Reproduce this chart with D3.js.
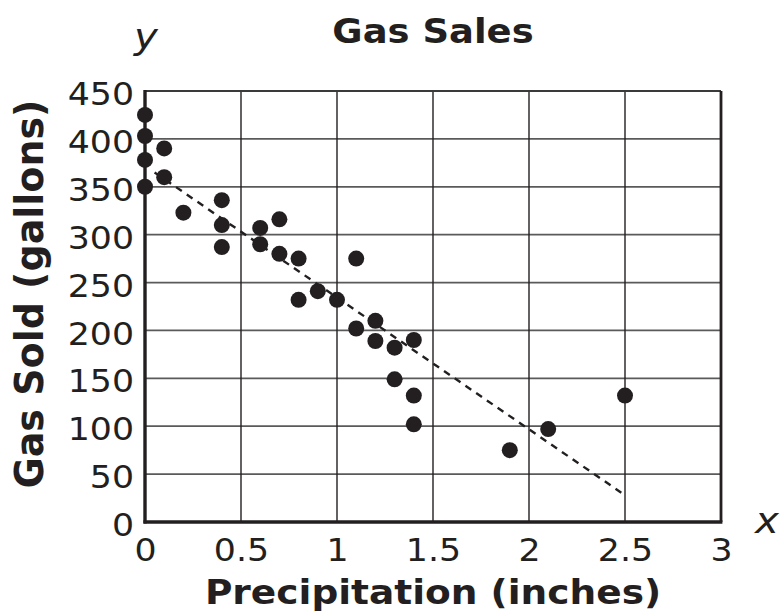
<!DOCTYPE html>
<html>
<head>
<meta charset="utf-8">
<script src="https://cdn.jsdelivr.net/npm/d3@7"></script>
<style>
  html, body { margin: 0; padding: 0; background: #fff; }
  svg { display: block; }
  text { fill: #231f20; font-family: "DejaVu Sans", Verdana, sans-serif; }
</style>
</head>
<body>
<svg id="chart" width="780" height="612"></svg>
<script>
// ---- data ----
const precipitation = [0, 0, 0.1, 0, 0.1, 0, 0.2, 0.4, 0.4, 0.4, 0.6, 0.6, 0.7, 0.7, 0.8, 0.8, 0.9, 1.0, 1.1, 1.1, 1.2, 1.2, 1.3, 1.3, 1.4, 1.4, 1.4, 1.9, 2.1, 2.5];
const gasSold =       [425, 403, 390, 378, 360, 350, 323, 336, 310, 287, 307, 290, 316, 280, 275, 232, 241, 232, 275, 202, 210, 189, 182, 149, 190, 132, 102, 75, 97, 132];
const trendX = [0.05, 2.5];
const trendY = [365, 28];
const xTicks = [0, 0.5, 1, 1.5, 2, 2.5, 3];
const yTicks = [0, 50, 100, 150, 200, 250, 300, 350, 400, 450];
const chartTitle = "Gas Sales";
const xTitle = "Precipitation (inches)";
const yTitle = "Gas Sold (gallons)";

const SX = 1.12; // horizontal stretch of title lettering
const SXT = 1.07; // horizontal stretch of tick lettering
const ink = "#231f20";

const svg = d3.select("#chart");
const pLeft = 145, pRight = 721, pTop = 91, pBottom = 522;

const x = d3.scaleLinear().domain([0, 3]).range([pLeft, pRight]);
const y = d3.scaleLinear().domain([0, 450]).range([pBottom, pTop]);

// grid
const grid = svg.append("g");
grid.selectAll("line.h").data(yTicks.filter(d => d > 0 && d < 450)).join("line")
  .attr("class", "h")
  .attr("x1", pLeft).attr("x2", pRight)
  .attr("y1", d => y(d)).attr("y2", d => y(d))
  .attr("stroke", "#5a5a5c").attr("stroke-width", 1.8);
grid.selectAll("line.v").data(xTicks.filter(d => d > 0 && d < 3)).join("line")
  .attr("class", "v")
  .attr("y1", pTop).attr("y2", pBottom)
  .attr("x1", d => x(d)).attr("x2", d => x(d))
  .attr("stroke", ink).attr("stroke-width", 1.4);

// borders
svg.append("line").attr("x1", pLeft).attr("x2", pRight).attr("y1", pTop).attr("y2", pTop)
  .attr("stroke", "#3a3a3c").attr("stroke-width", 2.2);
svg.append("line").attr("x1", pRight).attr("x2", pRight).attr("y1", pTop).attr("y2", pBottom)
  .attr("stroke", ink).attr("stroke-width", 2.8);
svg.append("line").attr("x1", pLeft).attr("x2", pLeft).attr("y1", pTop - 1).attr("y2", pBottom + 1.5)
  .attr("stroke", ink).attr("stroke-width", 3.4);
svg.append("line").attr("x1", pLeft - 1.5).attr("x2", pRight + 1.4).attr("y1", pBottom).attr("y2", pBottom)
  .attr("stroke", ink).attr("stroke-width", 3.4);

// axes (labels only)
const yAxis = svg.append("g").attr("transform", `translate(${pLeft},0)`)
  .call(d3.axisLeft(y).tickValues(yTicks).tickSize(0).tickPadding(0).tickFormat(d3.format("d")));
yAxis.select(".domain").remove();
yAxis.selectAll("text")
  .attr("x", null).attr("dy", "0.42em")
  .attr("transform", `translate(-11,0) scale(${SXT},1)`)
  .style("font-size", "32.5px").style("font-family", "'DejaVu Sans', sans-serif").attr("fill", ink);

const xAxis = svg.append("g").attr("transform", `translate(0,${pBottom})`)
  .call(d3.axisBottom(x).tickValues(xTicks).tickSize(0).tickPadding(0).tickFormat(d => String(d)));
xAxis.select(".domain").remove();
xAxis.selectAll("text")
  .attr("y", null).attr("dy", null)
  .attr("transform", `translate(0,38.5) scale(${SXT},1)`)
  .style("font-size", "32.5px").style("font-family", "'DejaVu Sans', sans-serif").attr("fill", ink);

// trend line
svg.append("line")
  .attr("x1", x(trendX[0])).attr("y1", y(trendY[0]))
  .attr("x2", x(trendX[1])).attr("y2", y(trendY[1]))
  .attr("stroke", ink).attr("stroke-width", 2.4).attr("stroke-dasharray", "7,6");

// points
svg.append("g").selectAll("circle").data(precipitation.map((p, i) => [p, gasSold[i]])).join("circle")
  .attr("cx", d => x(d[0])).attr("cy", d => y(d[1])).attr("r", 8).attr("fill", ink);

// titles
svg.append("text").attr("transform", `translate(433,43) scale(${SX},1)`)
  .attr("text-anchor", "middle").style("font-size", "33px").style("font-weight", "bold").text(chartTitle);
svg.append("text").attr("transform", `translate(433,604) scale(${SX},1)`)
  .attr("text-anchor", "middle").style("font-size", "33.5px").style("font-weight", "bold").text(xTitle);
svg.append("text").attr("transform", `translate(43,294) scale(1.05,1) rotate(-90)`)
  .attr("text-anchor", "middle").style("font-size", "38px").style("font-weight", "bold").text(yTitle);

// axis letters
svg.append("text").attr("transform", `translate(146,49) scale(${SX},1)`)
  .attr("text-anchor", "middle").style("font-size", "36px").style("font-style", "italic").text("y");
svg.append("text").attr("transform", `translate(767,533) scale(${SX},1)`)
  .attr("text-anchor", "middle").style("font-size", "36px").style("font-style", "italic").text("x");
</script>
</body>
</html>
